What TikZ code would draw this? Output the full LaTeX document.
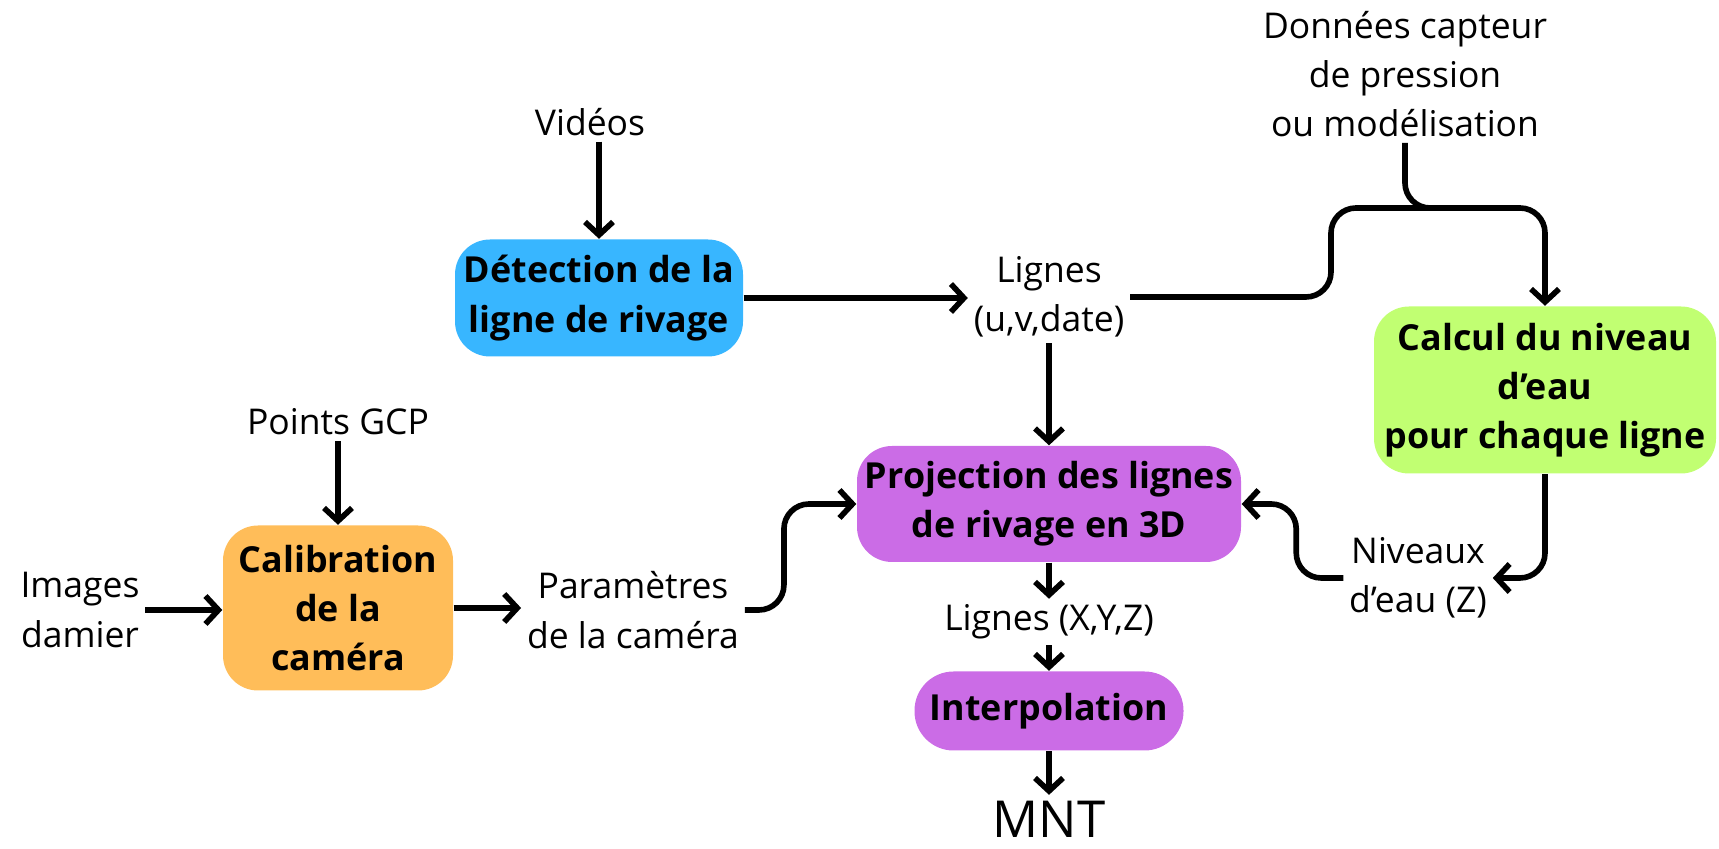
\documentclass[tikz,border=0pt]{standalone}
\usepackage{fontspec}
\setmainfont{Open Sans}
\usepackage{tikz}
\usetikzlibrary{arrows.meta}
\definecolor{detblue}{HTML}{38B6FF}
\definecolor{calorange}{HTML}{FFBD59}
\definecolor{calgreen}{HTML}{C1FF72}
\definecolor{projpurple}{HTML}{CB6CE6}
\tikzset{
  txt/.style={align=center, font=\fontsize{10.1}{14}\selectfont, inner sep=1.5pt},
  box/.style={rounded corners=3.5mm, align=center, inner sep=2pt,
    font=\bfseries\fontsize{10.2}{14}\selectfont},
  flow/.style={line width=1.6pt, -{Straight Barb[length=1.3mm,width=2.8mm]}},
  wire/.style={line width=1.6pt}
}
\begin{document}
\begin{tikzpicture}[x=0.1mm, y=-0.1mm]
\useasboundingbox (0,0) rectangle (1719,849);
% boxes
\node[box, fill=detblue, minimum width=28.8mm, minimum height=11.7mm] (det) at (599,298) {Détection de la\\ligne de rivage};
\node[box, fill=projpurple, minimum width=38.4mm, minimum height=11.6mm] (proj) at (1049,504) {Projection des lignes\\de rivage en 3D};
\node[box, fill=calgreen, minimum width=34.2mm, minimum height=16.7mm] (calc) at (1545,390) {Calcul du niveau\\d’eau\\pour chaque ligne};
\node[box, fill=projpurple, rounded corners=3.9mm, minimum width=26.9mm, minimum height=7.9mm] (interp) at (1049,711) {Interpolation};
\node[box, fill=calorange, minimum width=23mm, minimum height=16.5mm] (calib) at (338,608) {Calibration\\de la\\caméra};

% data
\node[txt] (vid) at (590,122) {Vidéos};
\node[txt] (lig) at (1049,297) {Lignes\\(u,v,date)};
\node[txt] (don) at (1405,74) {Données capteur\\de pression\\ou modélisation};
\node[txt] (niv) at (1418,578) {Niveaux\\d’eau (Z)};
\node[txt] (ligx) at (1049,622) {Lignes (X,Y,Z)};
\node[txt, font=\fontsize{14.5}{17}\selectfont] (mnt) at (1049,819) {MNT};
\node[txt] (gcp) at (338,422) {Points GCP};
\node[txt] (img) at (80,610) {Images\\damier};
\node[txt] (par) at (633,610) {Paramètres\\de la caméra};
\coordinate (kink) at (1331,208);
\coordinate (join) at (1460,208);

% connectors
\draw[flow] (vid.south -| det.north) -- (det.north);
\draw[flow] (det.east) -- (det.east -| lig.west);
\draw[flow] (lig.south) -- (proj.north);
\draw[flow, rounded corners=2.5mm] (lig.east) -- (lig.east -| kink) -- (kink) -- (calc.north |- kink) -- (calc.north);
\draw[wire, rounded corners=2.5mm] (don.south) |- (join);
\draw[flow, rounded corners=2.5mm] (calc.south) |- (niv.east);
\draw[flow, rounded corners=2.5mm] (niv.west) -- ++(-47,0) |- (proj.east);
\draw[flow, rounded corners=2.5mm] (par.east) -- ++(39,0) |- (proj.west);
\draw[flow] (proj.south) -- (ligx.north);
\draw[flow] (ligx.south) -- (interp.north);
\draw[flow] (interp.south) -- (mnt.north);
\draw[flow] (gcp.south) -- (calib.north);
\draw[flow] (img.east) -- (img.east -| calib.west);
\draw[flow] (calib.east) -- (calib.east -| par.west);
\end{tikzpicture}
\end{document}
